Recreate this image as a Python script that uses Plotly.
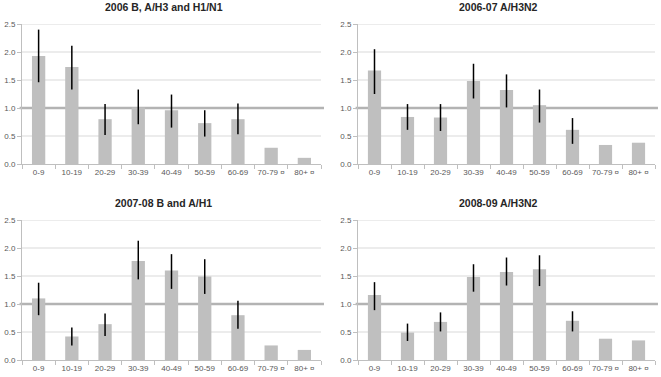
import plotly.graph_objects as go

W, H = 661, 377

age_groups = ["0-9", "10-19", "20-29", "30-39", "40-49", "50-59", "60-69", "70-79 ¤", "80+ ¤"]

title_1 = "2006 B, A/H3 and H1/N1"
value_1 = [1.93, 1.73, 0.80, 1.01, 0.96, 0.73, 0.80, 0.29, 0.11]
upper_1 = [2.40, 2.11, 1.07, 1.33, 1.24, 0.96, 1.08, None, None]
lower_1 = [1.46, 1.33, 0.52, 0.71, 0.65, 0.49, 0.53, None, None]

title_2 = "2006-07 A/H3N2"
value_2 = [1.67, 0.84, 0.83, 1.48, 1.32, 1.05, 0.61, 0.34, 0.38]
upper_2 = [2.05, 1.07, 1.07, 1.79, 1.60, 1.33, 0.82, None, None]
lower_2 = [1.25, 0.61, 0.59, 1.17, 1.01, 0.74, 0.36, None, None]

title_3 = "2007-08 B and A/H1"
value_3 = [1.10, 0.42, 0.64, 1.77, 1.60, 1.49, 0.80, 0.26, 0.18]
upper_3 = [1.38, 0.58, 0.83, 2.13, 1.89, 1.80, 1.06, None, None]
lower_3 = [0.80, 0.26, 0.43, 1.44, 1.27, 1.18, 0.56, None, None]

title_4 = "2008-09 A/H3N2"
value_4 = [1.16, 0.49, 0.68, 1.48, 1.57, 1.62, 0.70, 0.38, 0.35]
upper_4 = [1.39, 0.65, 0.85, 1.71, 1.83, 1.87, 0.87, None, None]
lower_4 = [0.89, 0.34, 0.51, 1.22, 1.33, 1.32, 0.51, None, None]

y_ticks = [0.0, 0.5, 1.0, 1.5, 2.0, 2.5]
reference_value = 1.0

panels = [
    (title_1, value_1, upper_1, lower_1, (22, 321), (24, 164)),
    (title_2, value_2, upper_2, lower_2, (358, 655), (24, 164)),
    (title_3, value_3, upper_3, lower_3, (22, 321), (220, 360)),
    (title_4, value_4, upper_4, lower_4, (358, 655), (220, 360)),
]

fig = go.Figure()
FONT = "Liberation Sans, Arial, sans-serif"

for i, (title, vals, up, lo, (x0, x1), (yt, yb)) in enumerate(panels):
    n = i + 1
    xa = "x" if n == 1 else f"x{n}"
    ya = "y" if n == 1 else f"y{n}"
    plus = [(u - v) if u is not None else 0 for u, v in zip(up, vals)]
    minus = [(v - l) if l is not None else 0 for l, v in zip(lo, vals)]
    fig.add_trace(go.Bar(
        x=age_groups, y=vals, xaxis=xa, yaxis=ya,
        marker=dict(color="#bfbfbf", line=dict(width=0)),
        error_y=dict(type="data", symmetric=False, array=plus, arrayminus=minus,
                     color="black", thickness=1.5, width=0),
        showlegend=False, hoverinfo="x+y",
    ))
    xd = [x0 / W, x1 / W]
    yd = [1 - yb / H, 1 - yt / H]
    fig.layout[f"xaxis{'' if n == 1 else n}"] = dict(
        domain=xd, anchor=ya, type="category",
        showline=True, linecolor="#bfbfbf", linewidth=1,
        ticks="outside", ticklen=4, tickcolor="#bfbfbf", tickson="boundaries",
        tickangle=0, automargin=False,
        tickfont=dict(family=FONT, size=8, color="#595959"),
        showgrid=False, fixedrange=True,
    )
    fig.layout[f"yaxis{'' if n == 1 else n}"] = dict(
        domain=yd, anchor=xa, range=[0, 2.5],
        tickvals=y_ticks, ticktext=[f"{v:.1f}" for v in y_ticks],
        showline=True, linecolor="#bfbfbf", linewidth=1,
        ticks="outside", ticklen=4, tickcolor="#bfbfbf", automargin=False,
        tickfont=dict(family=FONT, size=8, color="#595959"),
        showgrid=False, zeroline=False, fixedrange=True,
    )
    # gridlines as shapes (below bars)
    for t in y_ticks[1:]:
        if t == reference_value:
            continue
        fig.add_shape(type="line", xref=f"{xa} domain", yref=ya,
                      x0=0, x1=1, y0=t, y1=t,
                      line=dict(color="#d9d9d9", width=1), layer="below")
    fig.add_shape(type="line", xref=f"{xa} domain", yref=ya,
                  x0=-0.008, x1=1.01, y0=reference_value, y1=reference_value,
                  line=dict(color="#b3b3b3", width=2.5), layer="below")
    fig.add_annotation(text=f"<b>{title}</b>", xref="paper", yref="paper",
                       x=((x0 + x1) / 2 - 8) / W, y=1 - (yt - 17) / H,
                       xanchor="center", yanchor="middle", showarrow=False,
                       font=dict(family=FONT, size=10.5, color="#262626"))

fig.update_layout(
    width=W, height=H, margin=dict(l=0, r=0, t=0, b=0),
    paper_bgcolor="white", plot_bgcolor="white",
    bargap=0.6,
)

fig.write_html(
    "out.html",
    config={"displayModeBar": False},
    post_script="document.body.style.margin='0';document.body.style.overflow='hidden';",
)
